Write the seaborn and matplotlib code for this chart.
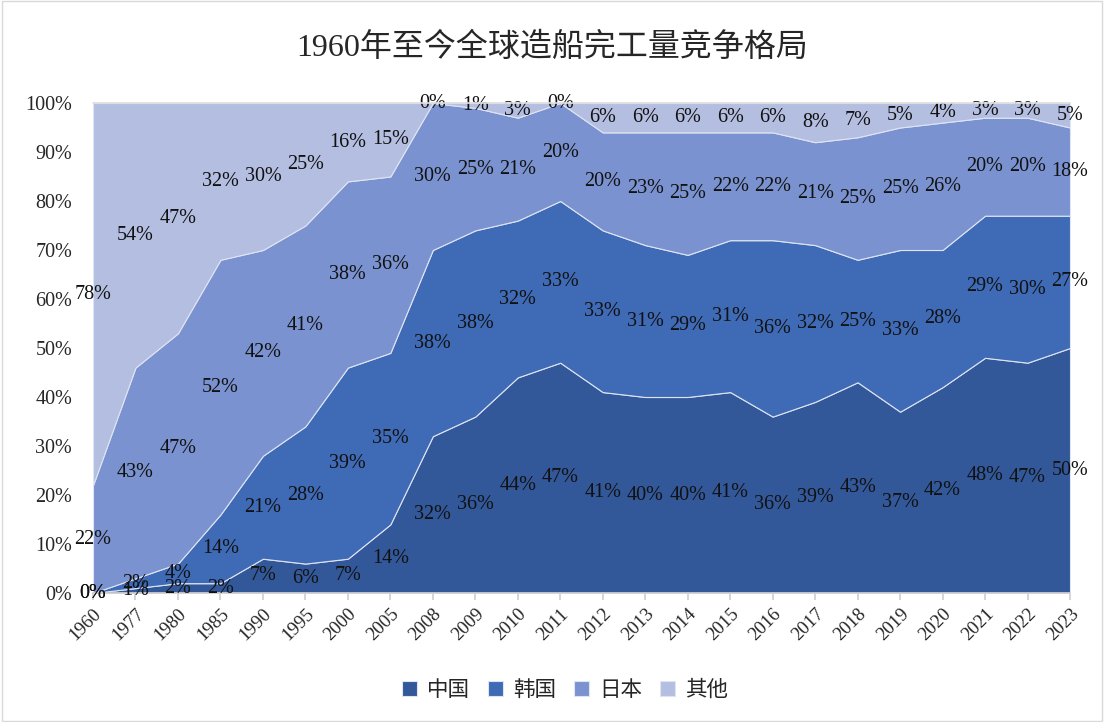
import matplotlib
matplotlib.use("Agg")
import matplotlib.pyplot as plt
import seaborn as sns
import numpy as np
from matplotlib.patches import Rectangle

years = ["1960", "1977", "1980", "1985", "1990", "1995", "2000", "2005", "2008", "2009",
         "2010", "2011", "2012", "2013", "2014", "2015", "2016", "2017", "2018", "2019",
         "2020", "2021", "2022", "2023"]
china = [0, 1, 2, 2, 7, 6, 7, 14, 32, 36, 44, 47, 41, 40, 40, 41, 36, 39, 43, 37, 42, 48, 47, 50]
korea = [0, 2, 4, 14, 21, 28, 39, 35, 38, 38, 32, 33, 33, 31, 29, 31, 36, 32, 25, 33, 28, 29, 30, 27]
japan = [22, 43, 47, 52, 42, 41, 38, 36, 30, 25, 21, 20, 20, 23, 25, 22, 22, 21, 25, 25, 26, 20, 20, 18]
other = [78, 54, 47, 32, 30, 25, 16, 15, 0, 1, 3, 0, 6, 6, 6, 6, 6, 8, 7, 5, 4, 3, 3, 5]
series_names = ["中国", "韩国", "日本", "其他"]
title = "1960年至今全球造船完工量竞争格局"

sns.set_theme(style="white")
serif = ["Liberation Serif", "Noto Sans CJK SC", "DejaVu Sans"]
plt.rcParams["font.family"] = serif
colors = sns.color_palette(["#325899", "#3E6AB6", "#7A92CF", "#B4BEE0"])

fig = plt.figure(figsize=(11.04, 7.22), dpi=100)
ax = fig.add_axes([93/1104, 1-593/722, (1070-93)/1104, (593-103)/722])

x = np.arange(len(years))
data = [np.array(china, float), np.array(korea, float), np.array(japan, float), np.array(other, float)]
bottom = np.zeros(len(years))
for vals, c, name in zip(data, colors, series_names):
    top = bottom + vals
    ax.fill_between(x, bottom / 100, top / 100, color=c, linewidth=0.8,
                    edgecolor="#dfe4f2", label=name)
    for xi, b, v in zip(x, bottom, vals):
        ax.text(xi, (b + v / 2) / 100, f"{int(v)}%", ha="center", va="center",
                fontsize=14.5, color="#111111", family=serif)
    bottom = top

ax.set_xlim(0, len(years) - 1)
ax.set_ylim(0, 1)
ax.set_yticks(np.arange(0, 1.01, 0.1))
ax.set_yticklabels([f"{int(round(v*100))}%" for v in np.arange(0, 1.01, 0.1)], fontsize=14.5)
ax.set_xticks(x)
ax.set_xticklabels(years, rotation=45, ha="right", rotation_mode="anchor", fontsize=13.5)
ax.tick_params(axis="y", length=0, pad=15)
ax.tick_params(axis="x", length=5, color="#d0d0d0", pad=4, direction="out", bottom=True)
for s in ["top", "right", "left"]:
    ax.spines[s].set_visible(False)
ax.spines["bottom"].set_color("#d0d0d0")
ax.plot([0, len(years) - 1], [1, 1], color="#dddddd", lw=1.2, clip_on=False, zorder=5)

fig.text(552/1104, 1-48/722, title, ha="center", va="center", fontsize=23, family=serif)

handles, labels = ax.get_legend_handles_labels()
fig.legend(handles, labels, loc="center", bbox_to_anchor=(565/1104, 1-690/722), ncol=4,
           frameon=False, handlelength=0.7, handleheight=0.7,
           columnspacing=0.8, handletextpad=0.5,
           prop={"family": ["Noto Sans CJK SC", "DejaVu Sans"], "size": 15.5})

fig.patches.append(Rectangle((0.002, 0.002), 0.996, 0.996, transform=fig.transFigure,
                             fill=False, edgecolor="#d9d9d9", lw=1))

fig.savefig("out.png", dpi=100)
